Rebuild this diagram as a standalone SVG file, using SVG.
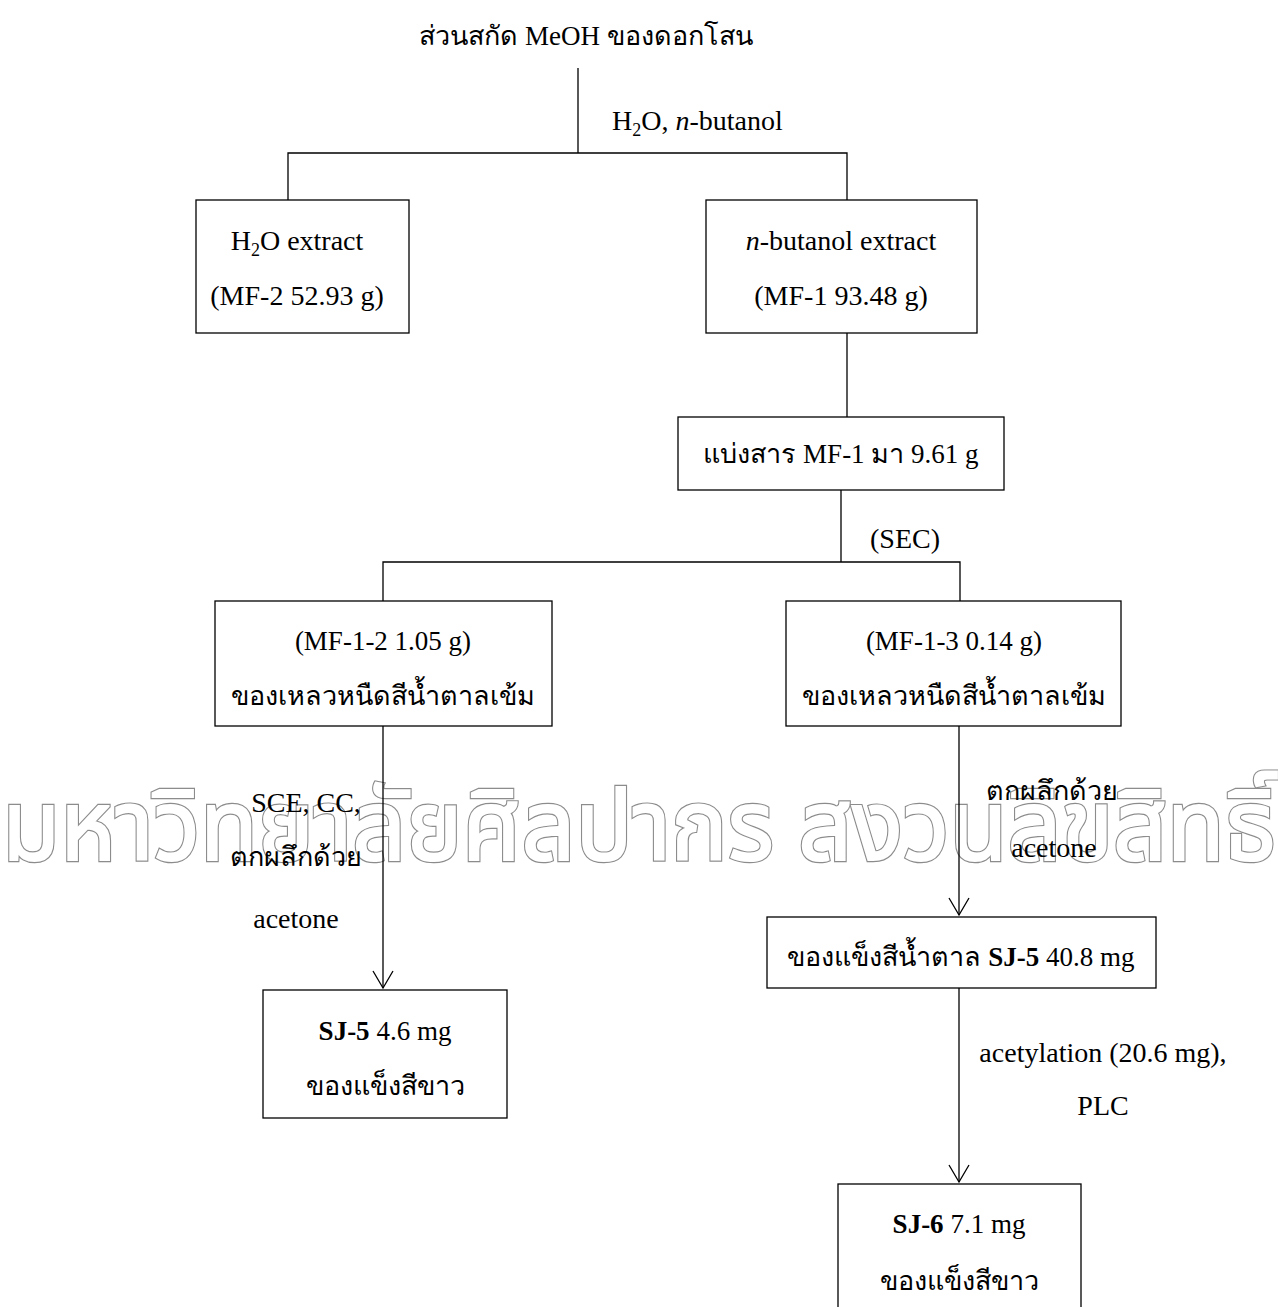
<svg xmlns="http://www.w3.org/2000/svg" width="1278" height="1307" viewBox="0 0 1278 1307">
  <defs>
    <style>
      .t { font-family: "Liberation Serif", "Times New Roman", serif; font-size: 27px; fill: #000; }
      .l { font-size: 28px; }
      .c { text-anchor: middle; }
      .b { font-weight: bold; }
      .box { fill: #fff; stroke: #000; stroke-width: 1.3; }
      .ln { fill: none; stroke: #000; stroke-width: 1.3; }
      .wm { font-family: "Noto Sans Thai", "Noto Sans", sans-serif; font-size: 98px; }
    </style>
    <!-- open V arrowhead, tip at the end of the line -->
    <marker id="vee" markerUnits="userSpaceOnUse" markerWidth="20" markerHeight="24" refX="18" refY="11" orient="auto" viewBox="0 0 20 22">
      <path d="M1,1 L18,11 L1,21" fill="none" stroke="#000" stroke-width="1.3"/>
    </marker>
  </defs>
  <rect width="1278" height="1307" fill="#fff"/>

  <!-- watermark band: double-outline lettering -->
  <g id="watermark">
    <text class="wm" x="2" y="860" textLength="1274" lengthAdjust="spacingAndGlyphs" fill="none" stroke="#8c8c8c" stroke-width="4.5">มหาวิทยาลัยศิลปากร สงวนลิขสิทธิ์</text>
    <text class="wm" x="2" y="860" textLength="1274" lengthAdjust="spacingAndGlyphs" fill="#fff" stroke="#fff" stroke-width="2.2">มหาวิทยาลัยศิลปากร สงวนลิขสิทธิ์</text>
  </g>

  <!-- connectors -->
  <g id="connectors">
    <path class="ln" d="M578,68 V153 M288,200 V153 H847 V200"/>
    <path class="ln" d="M847,332 V417"/>
    <path class="ln" d="M841,490 V562 M383,601 V562 H960 V601"/>
    <path class="ln" d="M383,726 V988" marker-end="url(#vee)"/>
    <path class="ln" d="M959,726 V915" marker-end="url(#vee)"/>
    <path class="ln" d="M959,988 V1182" marker-end="url(#vee)"/>
  </g>

  <!-- step labels -->
  <g id="labels">
    <text class="t l" x="612" y="130">H<tspan font-size="18" dy="6">2</tspan><tspan dy="-6">O, </tspan><tspan font-style="italic">n</tspan>-butanol</text>
    <text class="t l c" x="905" y="548">(SEC)</text>
    <text class="t l c" x="306" y="812">SCE, CC,</text>
    <text class="t c" x="296" y="866">ตกผลึกด้วย</text>
    <text class="t l c" x="296" y="928">acetone</text>
    <text class="t c" x="1052" y="800">ตกผลึกด้วย</text>
    <text class="t l c" x="1054" y="857">acetone</text>
    <text class="t l c" x="1103" y="1062">acetylation (20.6 mg),</text>
    <text class="t l c" x="1103" y="1115">PLC</text>
  </g>

  <g id="title">
    <text class="t c" x="586" y="45">ส่วนสกัด MeOH ของดอกโสน</text>
  </g>

  <g id="h2o-extract">
    <rect class="box" x="196" y="200" width="213" height="133"/>
    <text class="t l c" x="297" y="250">H<tspan font-size="18" dy="6">2</tspan><tspan dy="-6">O extract</tspan></text>
    <text class="t l c" x="297" y="305">(MF-2 52.93 g)</text>
  </g>

  <g id="butanol-extract">
    <rect class="box" x="706" y="200" width="271" height="133"/>
    <text class="t l c" x="841" y="250"><tspan font-style="italic">n</tspan>-butanol extract</text>
    <text class="t l c" x="841" y="305">(MF-1 93.48 g)</text>
  </g>

  <g id="mf1-portion">
    <rect class="box" x="678" y="417" width="326" height="73"/>
    <text class="t c" x="841" y="463">แบ่งสาร MF-1 มา 9.61 g</text>
  </g>

  <g id="mf1-2">
    <rect class="box" x="215" y="601" width="337" height="125"/>
    <text class="t c" x="383" y="650">(MF-1-2 1.05 g)</text>
    <text class="t c" x="383" y="705">ของเหลวหนืดสีน้ำตาลเข้ม</text>
  </g>

  <g id="mf1-3">
    <rect class="box" x="786" y="601" width="335" height="125"/>
    <text class="t c" x="954" y="650">(MF-1-3 0.14 g)</text>
    <text class="t c" x="954" y="705">ของเหลวหนืดสีน้ำตาลเข้ม</text>
  </g>

  <g id="sj5-small">
    <rect class="box" x="263" y="990" width="244" height="128"/>
    <text class="t c" x="385" y="1040"><tspan class="b">SJ-5</tspan> 4.6 mg</text>
    <text class="t c" x="385" y="1095">ของแข็งสีขาว</text>
  </g>

  <g id="sj5-brown">
    <rect class="box" x="767" y="917" width="389" height="71"/>
    <text class="t c" x="961" y="966">ของแข็งสีน้ำตาล  <tspan class="b">SJ-5</tspan> 40.8 mg</text>
  </g>

  <g id="sj6">
    <rect class="box" x="838" y="1184" width="243" height="140"/>
    <text class="t c" x="959" y="1233"><tspan class="b">SJ-6</tspan> 7.1 mg</text>
    <text class="t c" x="959" y="1290">ของแข็งสีขาว</text>
  </g>
</svg>
